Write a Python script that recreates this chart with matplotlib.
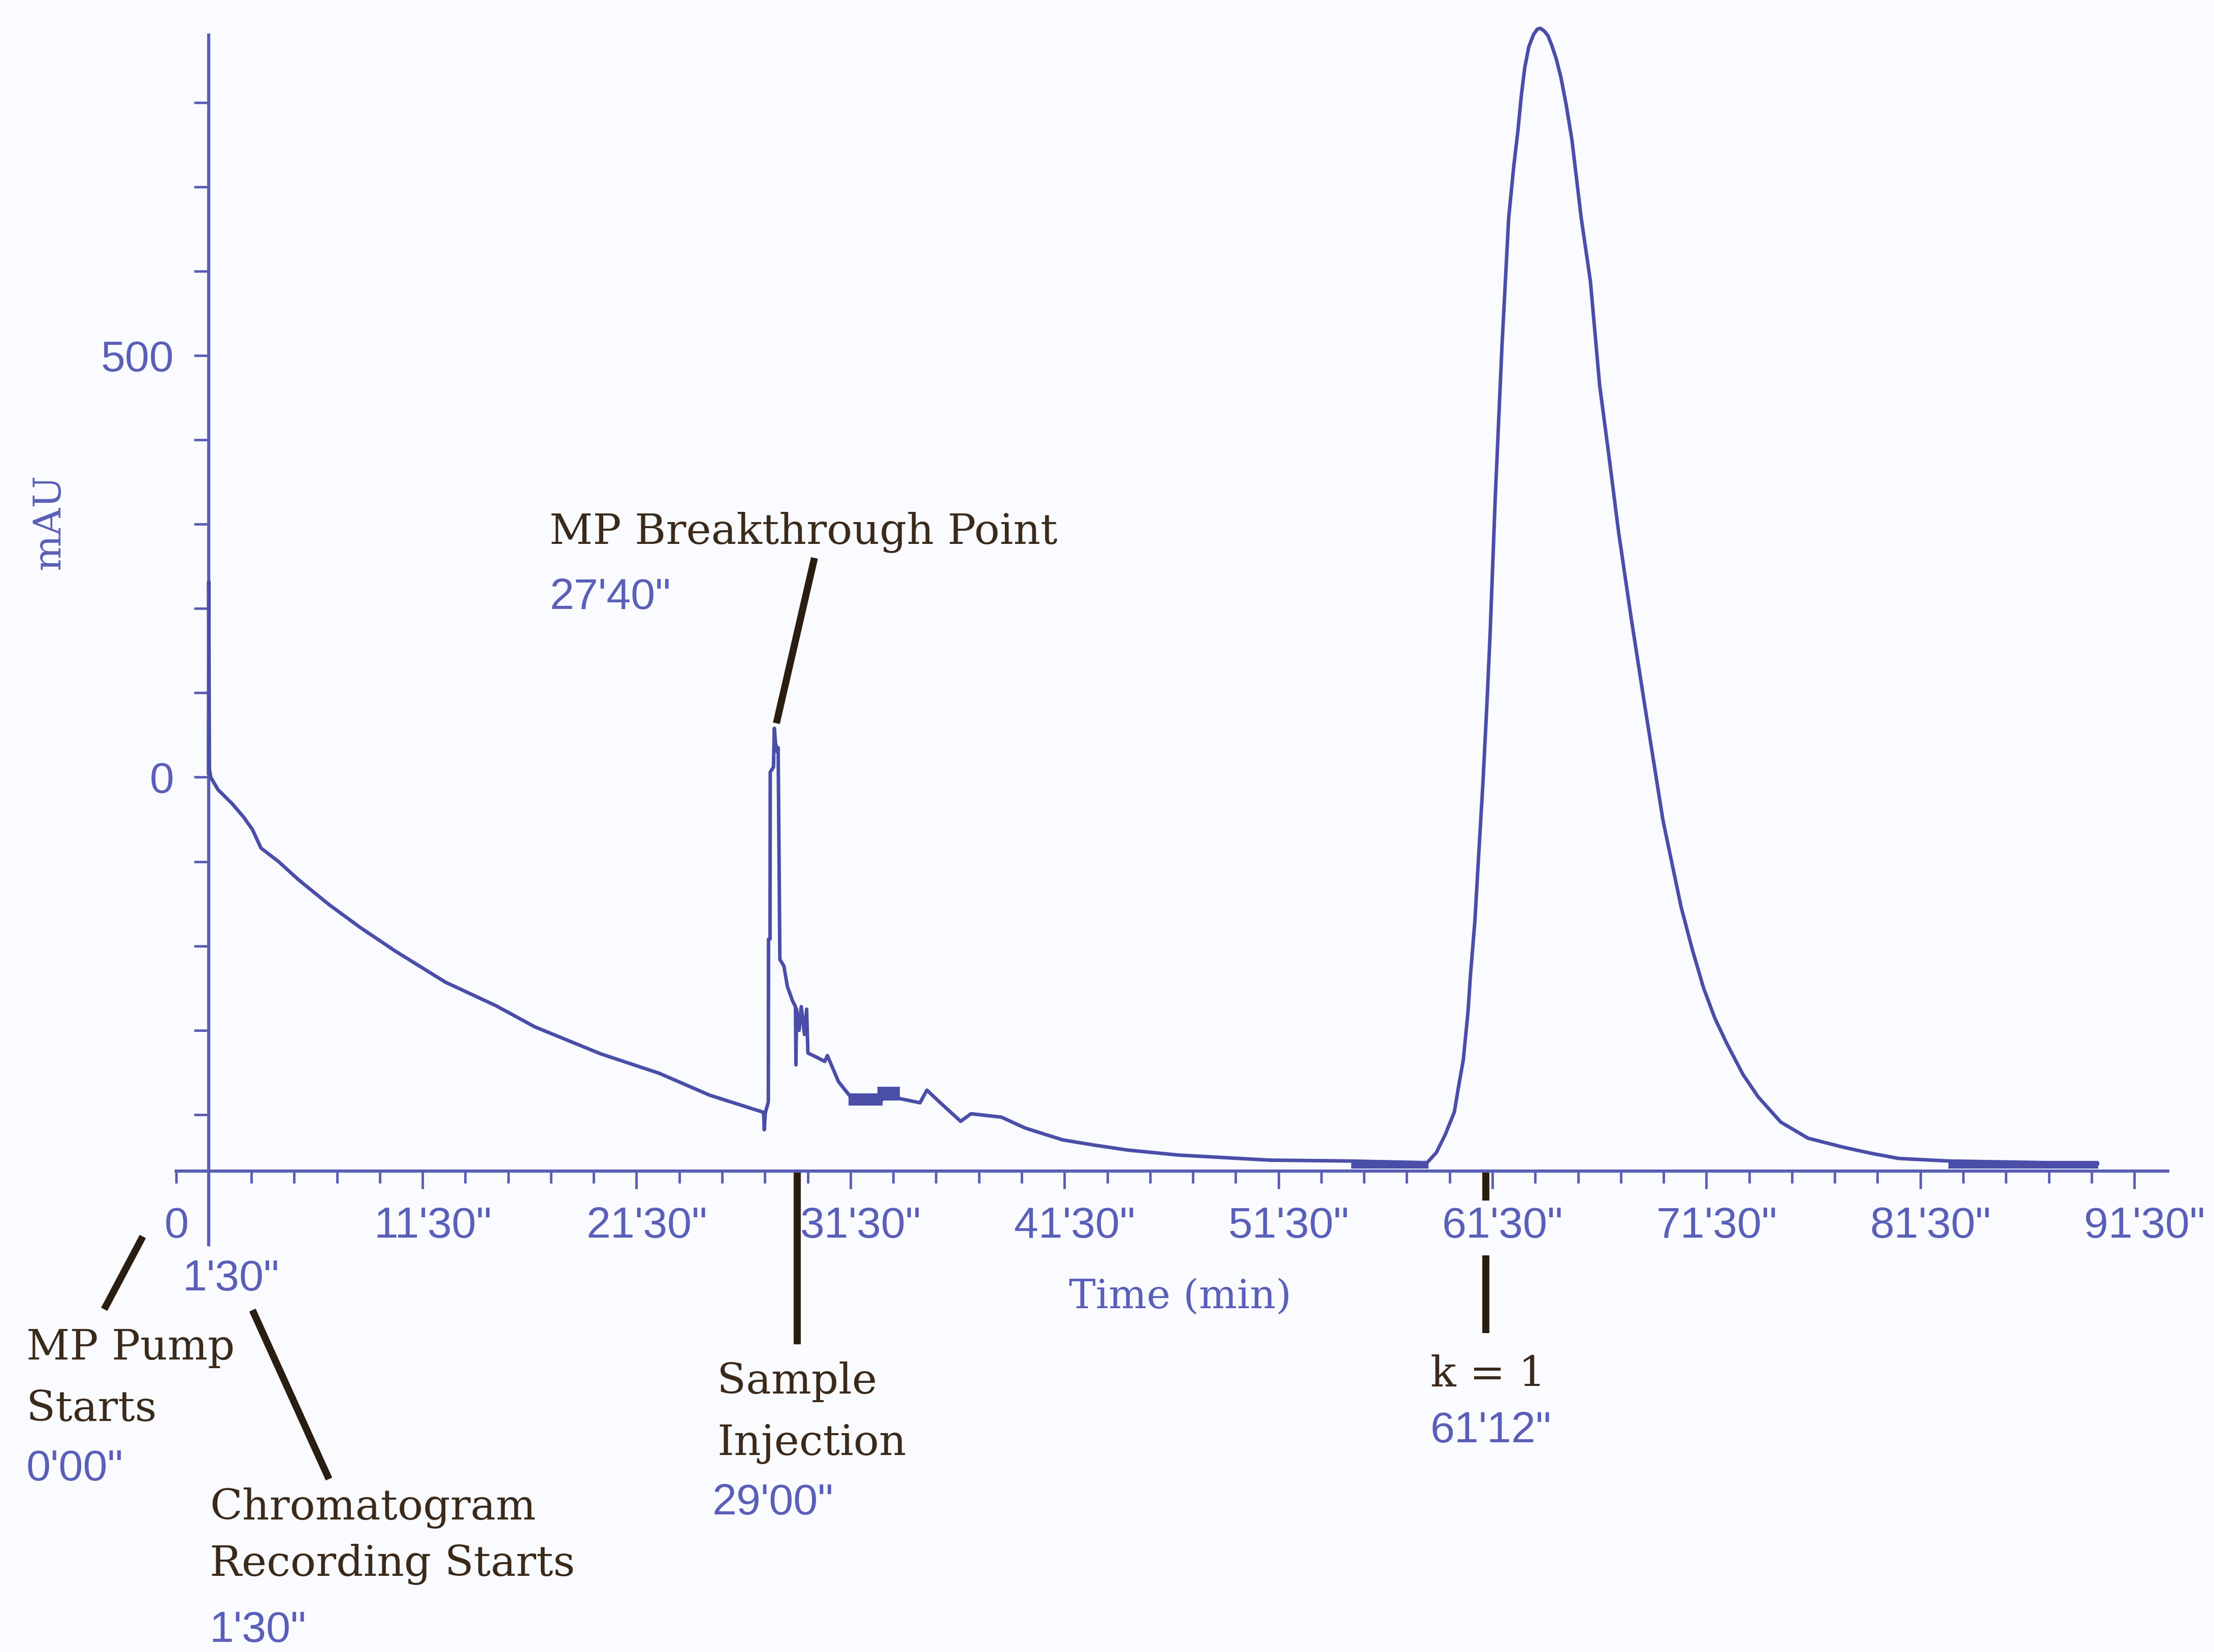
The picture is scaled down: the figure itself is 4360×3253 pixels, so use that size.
import matplotlib
matplotlib.use("Agg")
import matplotlib.pyplot as plt
from matplotlib import font_manager as fm
from matplotlib.transforms import blended_transform_factory, ScaledTranslation

# ---- detector trace: time (min) vs absorbance (mAU) ----
time_min = [
    1.50, 1.51, 1.54, 1.60, 1.95, 2.59, 3.13, 3.55, 3.95, 4.77, 5.68, 7.13,
    8.58, 10.22, 12.57, 14.94, 16.75, 19.83, 22.56, 24.92, 26.16, 27.40,
    27.44, 27.47, 27.52, 27.66, 27.67, 27.74, 27.75, 27.90, 27.94, 28.00,
    28.08, 28.12, 28.20, 28.39, 28.55, 28.79, 28.93, 28.95, 28.98, 29.10,
    29.20, 29.35, 29.45, 29.51, 30.00, 30.30, 30.42, 30.94, 31.57, 32.84,
    33.32, 33.80, 34.75, 35.07, 35.70, 36.65, 37.13, 38.55, 39.67, 41.42,
    42.85, 44.44, 46.83, 49.68, 51.10, 54.75, 58.45, 58.88, 59.29, 59.72,
    59.93, 60.14, 60.36, 60.47, 60.68, 60.84, 61.05, 61.25, 61.40, 61.63,
    61.95, 62.26, 62.50, 62.69, 62.85, 63.01, 63.20, 63.43, 63.60, 63.75,
    63.95, 64.10, 64.27, 64.48, 64.70, 64.95, 65.22, 65.65, 66.08, 66.51,
    66.93, 67.40, 67.99, 68.62, 69.47, 70.32, 70.85, 71.37, 71.90, 72.44,
    73.20, 73.92, 74.98, 76.25, 77.95, 79.22, 80.49, 82.82, 89.78,
]
absorbance_mau = [
    5, 232, 10, 0, -15, -31, -47, -62, -84, -100, -121, -151,
    -178, -206, -243, -271, -296, -328, -351, -377, -387, -397,
    -398, -418, -398, -385, -192, -192, 6, 12, 58, 40,
    30, 35, -216, -224, -248, -265, -272, -341, -275, -300,
    -272, -305, -275, -327, -333, -337, -330, -361, -381, -386,
    -373, -381, -386, -371, -386, -408, -399, -403, -416, -430,
    -436, -442, -448, -452, -454, -455, -457, -445, -424, -397,
    -365, -335, -278, -236, -171, -100, -10, 90, 175, 330,
    513, 663, 725, 766, 808, 841, 866, 881, 887, 888,
    884, 879, 868, 852, 830, 797, 755, 663, 588, 465,
    384, 290, 188, 85, -51, -154, -205, -250, -286, -315,
    -352, -379, -409, -428, -439, -446, -452, -455, -458,
]

# stretches where the recorded signal flickers within a narrow band
band_start = [31.40, 32.76, 54.90, 82.80]
band_end = [33.00, 33.80, 58.50, 89.80]
band_low = [-389, -383, -464, -464]
band_high = [-375, -367, -455, -455]

# ---- axis ticks ----
x_major = [11.5, 21.5, 31.5, 41.5, 51.5, 61.5, 71.5, 81.5, 91.5]
x_major_labels = ["11'30\"", "21'30\"", "31'30\"", "41'30\"", "51'30\"",
                  "61'30\"", "71'30\"", "81'30\"", "91'30\""]
x_minor = [0, 3.5, 5.5, 7.5, 9.5, 13.5, 15.5, 17.5, 19.5, 23.5, 25.5, 27.5,
           29.5, 33.5, 35.5, 37.5, 39.5, 43.5, 45.5, 47.5, 49.5, 53.5, 55.5,
           57.5, 59.5, 63.5, 65.5, 67.5, 69.5, 73.5, 75.5, 77.5, 79.5, 83.5,
           85.5, 87.5, 89.5]
y_major = [0, 500]
y_major_labels = ["0", "500"]
y_minor = [-400, -300, -200, -100, 100, 200, 300, 400, 600, 700, 800]

# ---- run events (min) ----
pump_start = 0.0
recording_start = 1.5
breakthrough = 27 + 40 / 60
injection = 29.0
k_one = 61 + 12 / 60


def available(name):
    try:
        fm.findfont(fm.FontProperties(family=name), fallback_to_default=False)
        return True
    except ValueError:
        return False


# narrow sans for the numerals, slab-like serif for the notes
if available("Liberation Sans Narrow"):
    NUM_FONT, NUM_SIZE = ["Liberation Sans Narrow", "DejaVu Sans"], 68
else:
    NUM_FONT, NUM_SIZE = ["Liberation Sans", "DejaVu Sans"], 62
SERIF_FONT = ["DejaVu Serif", "Liberation Serif"]
NOTE_SIZE = 60

# ---- styling ----
BG = "#fafbfe"
TRACE = "#4a4ea8"
AXIS = "#5a5eb4"
BLUE_TXT = "#5a5fb8"
BROWN_TXT = "#3a2a1c"
LEADER = "#2b1d12"

fig = plt.figure(figsize=(43.6, 32.53), dpi=100, facecolor=BG)
ax = fig.add_axes([0.0797, 0.2911, 0.8994, 0.6877])
ax.set_facecolor(BG)
ax.set_xlim(0, 93.06)
ax.set_ylim(-467, 880)

ax.plot(time_min, absorbance_mau, color=TRACE, lw=5.0, clip_on=False,
        solid_joinstyle="round", zorder=3)
for s, e, lo, hi in zip(band_start, band_end, band_low, band_high):
    ax.fill_between([s, e], [lo, lo], [hi, hi], color=TRACE, lw=0, zorder=3)

# spines: y axis sits at the recording start, x axis along the bottom
for side in ("top", "right"):
    ax.spines[side].set_visible(False)
ax.spines["left"].set_position(("data", recording_start))
ax.spines["left"].set_color(AXIS)
ax.spines["bottom"].set_color(AXIS)
ax.spines["left"].set_linewidth(4.5)
ax.spines["bottom"].set_linewidth(4.5)

ax.set_xticks(x_major)
ax.set_xticklabels(x_major_labels)
ax.set_xticks(x_minor, minor=True)
ax.set_xticklabels(["0"] + [""] * (len(x_minor) - 1), minor=True)
ax.set_yticks(y_major)
ax.set_yticklabels(y_major_labels)
ax.set_yticks(y_minor, minor=True)

ax.tick_params(axis="x", which="major", direction="out", length=25, width=3.5,
               color=AXIS, pad=25, labelsize=NUM_SIZE, labelcolor=BLUE_TXT)
ax.tick_params(axis="x", which="minor", direction="out", length=17, width=3.5,
               color=AXIS, pad=33, labelsize=NUM_SIZE, labelcolor=BLUE_TXT)
ax.tick_params(axis="y", which="both", direction="out", length=21, width=3.5,
               color=AXIS, pad=28, labelsize=NUM_SIZE, labelcolor=BLUE_TXT)
for lab in ax.get_xticklabels() + ax.get_xticklabels(minor=True) + ax.get_yticklabels():
    lab.set_family(NUM_FONT)
# the minute labels sit a little right of their ticks
shift = ScaledTranslation(0.2, 0, fig.dpi_scale_trans)
for lab in ax.get_xticklabels():
    lab.set_transform(lab.get_transform() + shift)

# long tick marking the recording start, with its label
xb = blended_transform_factory(ax.transData, ax.transAxes)
ax.plot([recording_start, recording_start], [0, -0.065], transform=xb,
        color=AXIS, lw=4.5, clip_on=False)
ax.text(recording_start + 1.05, -0.095, "1'30\"", transform=xb, ha="center",
        va="center", fontsize=NUM_SIZE, color=BLUE_TXT, family=NUM_FONT)

fig.text(0.533, 0.208, "Time (min)", ha="center", va="baseline",
         fontsize=57, color=BLUE_TXT, family=SERIF_FONT)
fig.text(0.0222, 0.684, "mAU", rotation=90, ha="center", va="center",
         fontsize=54, color=BLUE_TXT, family=SERIF_FONT)


# ---- event annotations ----
def note(x, y, s, blue=False):
    fig.text(x, y, s, ha="left", va="baseline",
             fontsize=NUM_SIZE if blue else NOTE_SIZE,
             color=BLUE_TXT if blue else BROWN_TXT,
             family=NUM_FONT if blue else SERIF_FONT)


LW_LEAD = 10
# breakthrough peak
ax.plot([breakthrough + 0.37, breakthrough + 2.15], [64, 260], color=LEADER,
        lw=LW_LEAD, clip_on=False, solid_capstyle="butt", zorder=4)
note(0.2482, 0.6708, "MP Breakthrough Point")
note(0.2482, 0.6314, "27'40\"", blue=True)

# mobile-phase pump start
ax.plot([pump_start - 1.65, pump_start - 3.30], [-0.0603, -0.1189],
        transform=xb, color=LEADER, lw=LW_LEAD, clip_on=False)
note(0.0119, 0.1771, "MP Pump")
note(0.0119, 0.1399, "Starts")
note(0.0119, 0.1039, "0'00\"", blue=True)

# chromatogram recording start
ax.plot([recording_start + 2.12, recording_start + 5.56], [-0.1252, -0.2682],
        transform=xb, color=LEADER, lw=LW_LEAD, clip_on=False)
note(0.0947, 0.0802, "Chromatogram")
note(0.0947, 0.0461, "Recording Starts")
note(0.0947, 0.0060, "1'30\"", blue=True)

# sample injection
ax.plot([injection, injection], [0, -0.1524], transform=xb, color=LEADER,
        lw=LW_LEAD, clip_on=False, solid_capstyle="butt")
note(0.3239, 0.1565, "Sample")
note(0.3239, 0.1193, "Injection")
note(0.3218, 0.0833, "29'00\"", blue=True)

# retention factor k = 1
ax.plot([k_one, k_one], [0, -0.026], transform=xb, color=LEADER,
        lw=LW_LEAD, clip_on=False, solid_capstyle="butt")
ax.plot([k_one, k_one], [-0.074, -0.1426], transform=xb, color=LEADER,
        lw=LW_LEAD, clip_on=False, solid_capstyle="butt")
note(0.6461, 0.1608, "k = 1")
note(0.6461, 0.1270, "61'12\"", blue=True)

fig.savefig("out.png", dpi=100, facecolor=BG)
